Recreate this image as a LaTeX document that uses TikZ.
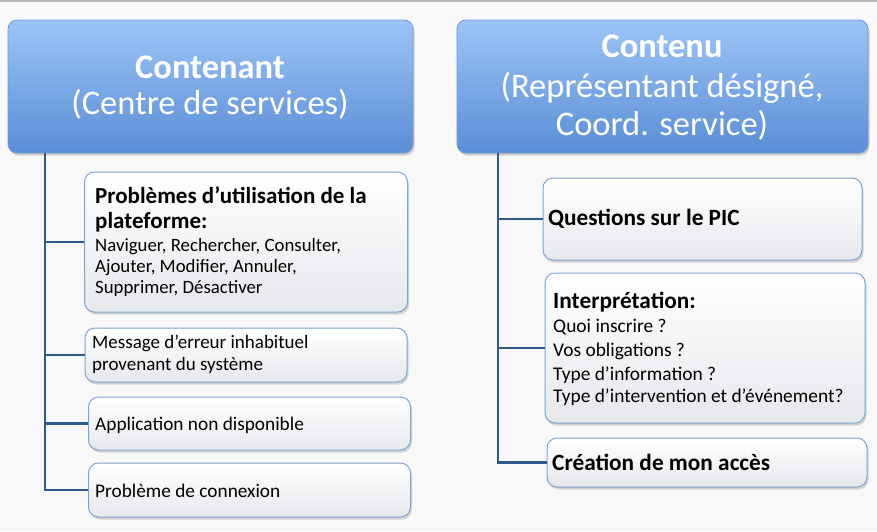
\documentclass[tikz,border=0pt]{standalone}
\usepackage{fontspec}
\setmainfont{Carlito}
\usetikzlibrary{shadows}
\definecolor{bgc}{HTML}{F8F8F8}
\definecolor{hdrtop}{HTML}{9DC4F6}
\definecolor{hdrbot}{HTML}{5A8ED6}
\definecolor{hdrline}{HTML}{6F9AD6}
\definecolor{trunkc}{HTML}{2E5A8E}
\definecolor{boxline}{HTML}{7FA4D2}
\definecolor{boxbot}{HTML}{E6E8EC}
\tikzset{
  hdrbox/.style={rectangle, rounded corners=9pt, draw=hdrline, line width=0.8pt,
    top color=hdrtop, bottom color=hdrbot, inner sep=0pt,
    drop shadow={opacity=0.35, shadow xshift=1.5pt, shadow yshift=-2.5pt}},
  itembox/.style={rectangle, rounded corners=10pt, draw=boxline, line width=1pt,
    top color=white, bottom color=boxbot, inner sep=0pt,
    drop shadow={opacity=0.3, shadow xshift=1.5pt, shadow yshift=-2.5pt}},
  hdrb/.style={text=white, anchor=base, inner sep=0pt, font=\fontsize{34.5}{40}\selectfont\bfseries},
  hdrr/.style={text=white, anchor=base, inner sep=0pt, font=\fontsize{34.5}{40}\selectfont},
  itemb/.style={text=black, anchor=base west, inner sep=0pt, font=\fontsize{#1}{#1}\selectfont\bfseries},
  itemr/.style={text=black, anchor=base west, inner sep=0pt, font=\fontsize{#1}{#1}\selectfont},
  trunk/.style={draw=trunkc, line width=2.6pt},
}
\begin{document}
\begin{tikzpicture}[x=1pt,y=-1pt]
\useasboundingbox (0,0) rectangle (877,531);
\fill[bgc] (0,0) rectangle (877,531);
\draw[gray!55, line width=1.5pt] (0,1) -- (877,1);

% headers
\node[hdrbox, minimum width=405pt, minimum height=133pt] (L) at (210.5,86.5) {};
\node[hdrbox, minimum width=411pt, minimum height=133pt] (R) at (662.5,86.5) {};
\node[hdrb] (Lt1) at (210,78) {Contenant};
\node[hdrr] (Lt2) at (210,114) {(Centre de services)};
\node[hdrb] (Rt1) at (662,57) {Contenu};
\node[hdrr] (Rt2) at (662,97) {(Représentant désigné,};
\node[hdrr] (Rt3) at (662,135) {Coord. service)};

% left items
\node[itembox, minimum width=323pt, minimum height=140pt] (l1) at (246,242) {};
\node[itembox, minimum width=322pt, minimum height=54pt] (l2) at (246,355) {};
\node[itembox, minimum width=322pt, minimum height=53pt] (l3) at (249.5,423.5) {};
\node[itembox, minimum width=322pt, minimum height=54pt] (l4) at (249.5,490) {};

\node[itemb=23] (l1a) at (95,203) {Problèmes d’utilisation de la};
\node[itemb=23] (l1b) at (95,228) {plateforme:};
\node[itemr=18.8] (l1c) at (95,251) {Naviguer, Rechercher, Consulter,};
\node[itemr=18.8] (l1d) at (95,272) {Ajouter, Modifier, Annuler,};
\node[itemr=18.8] (l1e) at (95,293) {Supprimer, Désactiver};
\node[itemr=19] (l2a) at (92,348) {Message d’erreur inhabituel};
\node[itemr=19] (l2b) at (92,370) {provenant du système};
\node[itemr=19.3] (l3a) at (95,430) {Application non disponible};
\node[itemr=19.3] (l4a) at (95,497) {Problème de connexion};

% right items
\node[itembox, minimum width=319pt, minimum height=82pt] (r1) at (702.5,219) {};
\node[itembox, minimum width=320pt, minimum height=150pt] (r2) at (705,348) {};
\node[itembox, minimum width=320pt, minimum height=49pt] (r3) at (707,462.5) {};

\node[itemb=23.3] (r1a) at (548,225) {Questions sur le PIC};
\node[itemb=23.3] (r2a) at (553,308) {Interprétation:};
\node[itemr=19.4] (r2b) at (553,332) {Quoi inscrire ?};
\node[itemr=19.4] (r2c) at (553,356) {Vos obligations ?};
\node[itemr=19.4] (r2d) at (553,380) {Type d’information ?};
\node[itemr=19.4] (r2e) at (553,402) {Type d’intervention et d’événement?};
\node[itemb=23.3] (r3a) at (552,470) {Création de mon accès};

% connectors
\coordinate (Ltop) at (45,153);
\coordinate (Rtop) at (498,153);
\draw[trunk] (Ltop) |- (l4.west);
\draw[trunk] (Ltop |- l1.west) -- (l1.west);
\draw[trunk] (Ltop |- l2.west) -- (l2.west);
\draw[trunk] (Ltop |- l3.west) -- (l3.west);
\draw[trunk] (Rtop) |- (r3.west);
\draw[trunk] (Rtop |- r1.west) -- (r1.west);
\draw[trunk] (Rtop |- r2.west) -- (r2.west);
\end{tikzpicture}
\end{document}
